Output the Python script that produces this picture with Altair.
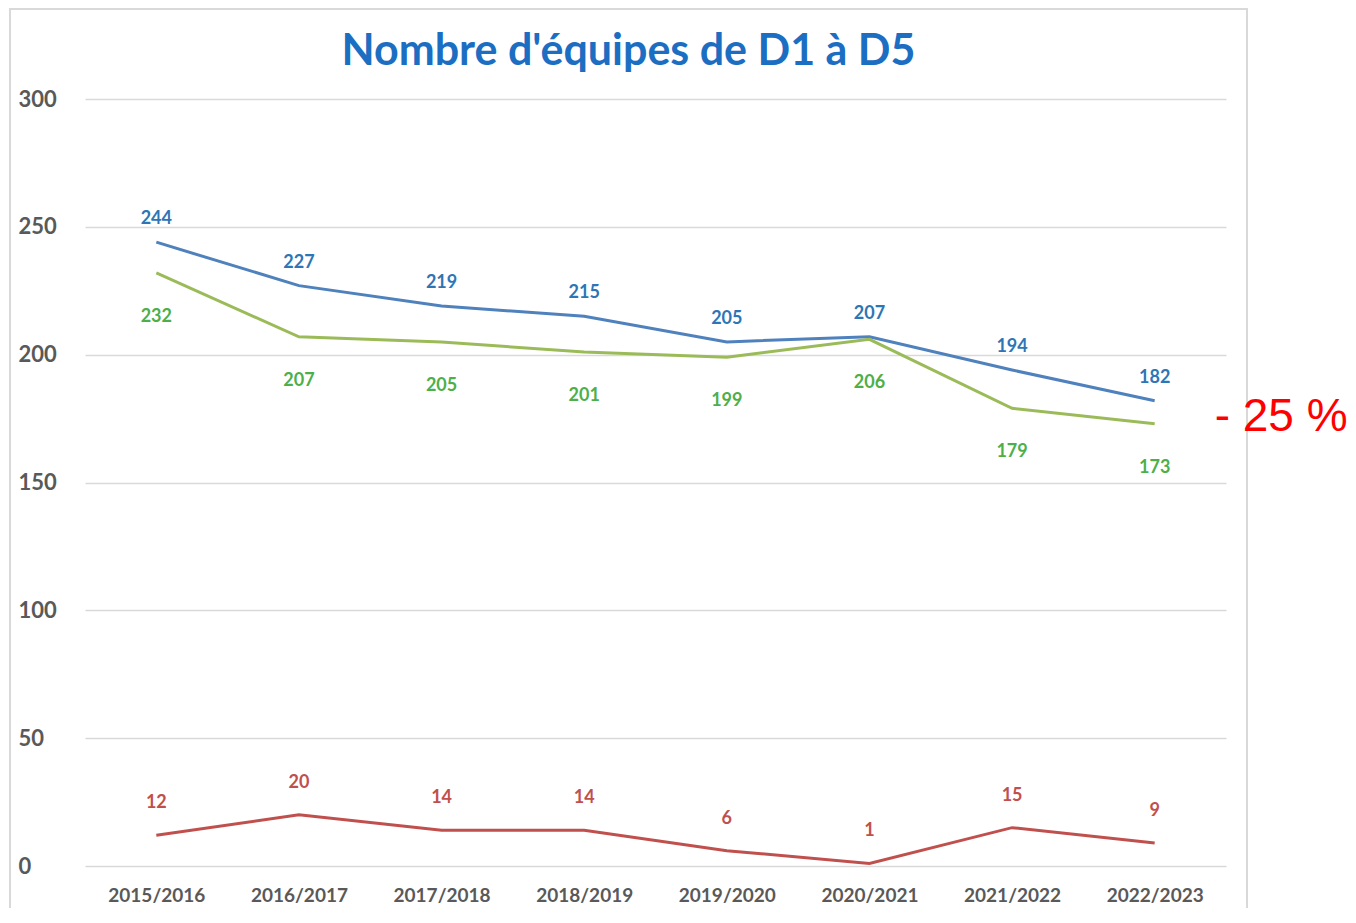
import altair as alt
import pandas as pd

seasons = ["2015/2016", "2016/2017", "2017/2018", "2018/2019",
           "2019/2020", "2020/2021", "2021/2022", "2022/2023"]
blue_vals = [244, 227, 219, 215, 205, 207, 194, 182]
green_vals = [232, 207, 205, 201, 199, 206, 179, 173]
red_vals = [12, 20, 14, 14, 6, 1, 15, 9]
series_names = ["bleu", "vert", "rouge"]
y_ticks = [0, 50, 100, 150, 200, 250, 300]
annot_text = "- 25 %"
annot_value = 175.6

rows = []
for name, vals in zip(series_names, [blue_vals, green_vals, red_vals]):
    for s, v in zip(seasons, vals):
        rows.append({"season": s, "value": v, "series": name})
df = pd.DataFrame(rows)

line_colors = ["#4F81BD", "#9BBB59", "#C0504D"]
label_colors = {"bleu": "#2E75B6", "vert": "#4DAF4A", "rouge": "#C0504D"}
label_dy = {"bleu": -23, "vert": 44, "rouge": -32}

x_enc = alt.X("season:N", sort=seasons,
              scale=alt.Scale(type="point", padding=0.5),
              axis=alt.Axis(title=None, labelAngle=0, domain=False, ticks=False, grid=False,
                            labelFont="Lato", labelFontSize=19, labelFontWeight="bold",
                            labelColor="#595959", labelPadding=20))
y_enc = alt.Y("value:Q", scale=alt.Scale(domain=[0, 300], nice=False),
              axis=alt.Axis(title=None, values=y_ticks, domain=False, ticks=False,
                            gridColor="#D9D9D9", gridWidth=1.5,
                            labelFont="Lato", labelFontSize=22, labelFontWeight="bold",
                            labelColor="#595959", labelAlign="left", labelPadding=67))

frame = alt.Chart(pd.DataFrame({"a": [0]})).mark_rect(
    fill="white", fillOpacity=0, stroke="#D9D9D9", strokeWidth=2
).encode(x=alt.value(-75), x2=alt.value(1162), y=alt.value(-90), y2=alt.value(900))

lines = alt.Chart(df).mark_line(strokeWidth=3).encode(
    x=x_enc, y=y_enc,
    color=alt.Color("series:N", scale=alt.Scale(domain=series_names, range=line_colors), legend=None),
)

label_layers = []
for name in series_names:
    label_layers.append(
        alt.Chart(df[df.series == name]).mark_text(
            font="Lato", fontSize=18, fontWeight="bold", color=label_colors[name],
            dy=label_dy[name], align="center", baseline="middle"
        ).encode(x=alt.X("season:N", sort=seasons), y="value:Q", text="value:Q")
    )

annot = alt.Chart(pd.DataFrame({"season": [seasons[-1]], "value": [annot_value], "t": [annot_text]})).mark_text(
    font="Liberation Sans", fontSize=46, color="#FF0000", align="left", baseline="middle", dx=60
).encode(x=alt.X("season:N", sort=seasons), y="value:Q", text="t:N")

chart = alt.layer(frame, lines, *label_layers, annot).properties(
    width=1141, height=767,
    background="white",
    title=alt.TitleParams("Nombre d'équipes de D1 à D5", font="Lato", fontSize=43,
                          fontWeight="bold", color="#1B6EC2", anchor="middle",
                          frame="group", baseline="alphabetic", offset=-100, dx=-27),
    autosize=alt.AutoSizeParams(type="none"),
    padding={"left": 77, "top": 91, "right": 122, "bottom": 42},
).configure_view(strokeWidth=0)

chart.save("out.html", embed_options={"renderer": "svg", "actions": False})
